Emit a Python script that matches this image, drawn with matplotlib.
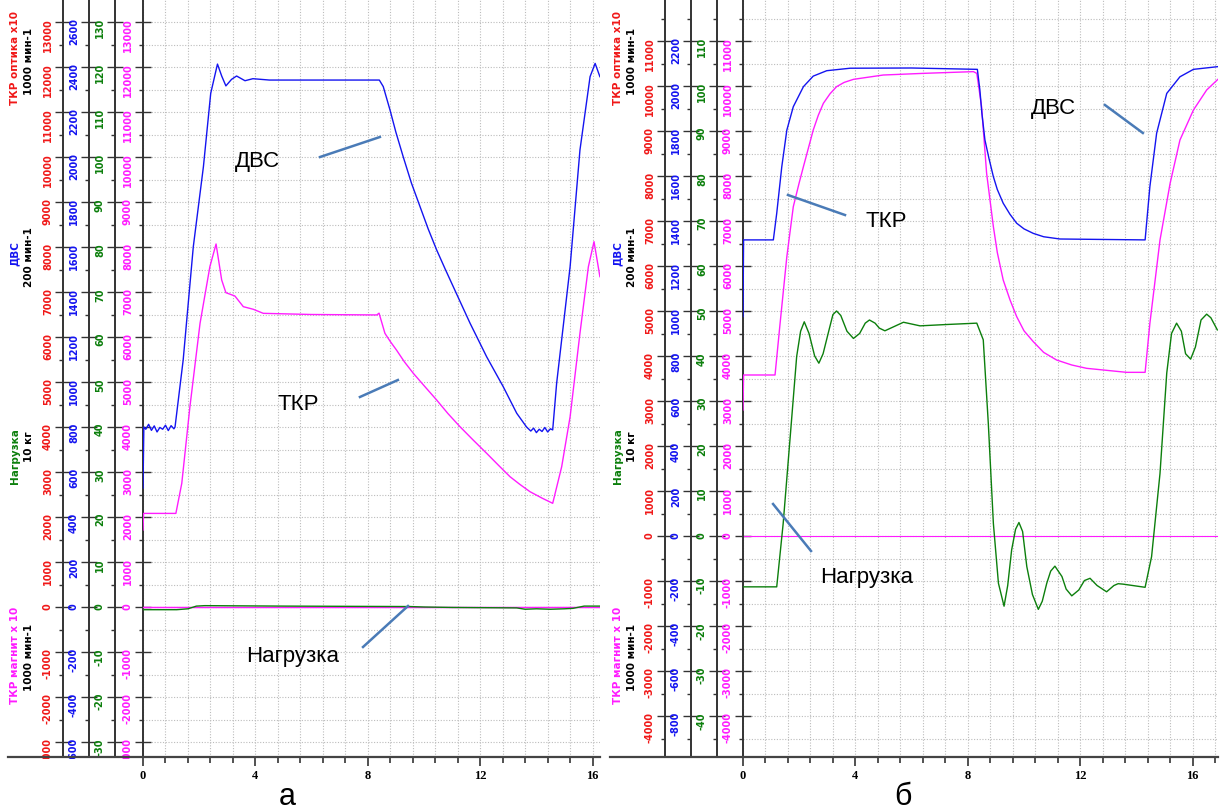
import numpy as np
import matplotlib.pyplot as plt
from matplotlib.ticker import MultipleLocator
from matplotlib.patches import Rectangle

plt.rcParams['axes.unicode_minus'] = False
plt.rcParams['font.family'] = ['DejaVu Sans']
plt.rcParams['font.weight'] = 'bold'

W, H = 1225, 811
PX_PER_1000 = 45.0
PX_PER_SEC = 28.1
AXIS_BOTTOM = 757

RED = '#f01818'
BLUE = '#1414f0'
GREEN = '#0c7f0c'
MAGENTA = '#ff1cff'
NOTE = '#4a7bb7'

# ---------- panel a ----------
t_dvs_a = [0, 0.03, 0.1, 0.2, 0.3, 0.4, 0.5, 0.6, 0.7, 0.8, 0.9, 1.0, 1.1, 1.14,
           1.43, 1.79, 2.15, 2.41, 2.65, 2.80, 2.95, 3.15, 3.33, 3.63, 3.91, 4.5,
           6.0, 8.41, 8.55, 8.79, 9.0, 9.26, 9.55, 9.86, 10.15, 10.45, 10.75, 11.04,
           11.64, 12.23, 12.82, 13.30, 13.65, 13.8, 13.9, 14.0, 14.1, 14.2, 14.3,
           14.4, 14.5, 14.58, 14.72, 15.20, 15.55, 15.91, 16.09, 16.26]
dvs_a = [529, 800, 790, 812, 785, 805, 778, 798, 790, 808, 784, 806, 792, 800,
         1098, 1601, 1957, 2283, 2413, 2360, 2316, 2345, 2360, 2339, 2348, 2342,
         2342, 2342, 2313, 2209, 2110, 2001, 1885, 1779, 1680, 1587, 1503, 1424,
         1261, 1112, 979, 861, 800, 782, 795, 775, 790, 780, 798,
         778, 792, 787, 994, 1513, 2031, 2357, 2416, 2357]

t_tkr_a = [0, 0.02, 1.17, 1.38, 1.67, 2.03, 2.38, 2.60, 2.80, 2.95, 3.27, 3.57,
           3.93, 4.28, 6.0, 8.32, 8.40, 8.61, 8.8, 9.02, 9.3, 9.62, 10.0, 10.45,
           10.85, 11.28, 11.75, 12.23, 12.65, 13.06, 13.4, 13.77, 14.2, 14.58,
           14.90, 15.20, 15.55, 15.85, 16.05, 16.26]
tkr_a = [1711, 2080, 2080, 2748, 4452, 6304, 7563, 8067, 7267, 6985, 6911, 6674,
         6615, 6526, 6500, 6490, 6530, 6081, 5900, 5711, 5450, 5193, 4920, 4600,
         4300, 4007, 3710, 3415, 3150, 2896, 2730, 2563, 2420, 2304,
         3118, 4230, 6081, 7563, 8119, 7341]

t_load_a = [0, 1.2, 1.6, 1.9, 2.2, 5.0, 9.5, 10.0, 11.0, 13.3, 13.6, 14.0, 14.5,
            15.0, 15.3, 15.7, 16.26]
load_a = [-0.6, -0.6, -0.4, 0.2, 0.3, 0.2, 0.1, 0.0, -0.1, -0.2, -0.5, -0.4,
          -0.5, -0.4, -0.3, 0.2, 0.2]

# ---------- panel b ----------
t_dvs_b = [0, 0.02, 1.08, 1.20, 1.38, 1.56, 1.79, 2.15, 2.50, 2.98, 3.81, 6.0,
           8.34, 8.43, 8.50, 8.61, 8.75, 8.91, 9.05, 9.26, 9.5, 9.74, 10.0, 10.33,
           10.7, 11.28, 14.31, 14.48, 14.72, 15.08, 15.55, 16.03, 16.9]
dvs_b = [975, 1316, 1316, 1434, 1641, 1804, 1908, 1997, 2044, 2068, 2079, 2080,
         2074, 1982, 1880, 1760, 1680, 1597, 1540, 1479, 1430, 1390, 1365, 1345,
         1330, 1320, 1316, 1553, 1790, 1967, 2041, 2074, 2086]

t_tkr_b = [0, 0.02, 1.14, 1.32, 1.56, 1.79, 2.0, 2.15, 2.50, 2.68, 2.86, 3.1, 3.33,
           3.6, 3.93, 4.99, 6.42, 8.20, 8.32, 8.49, 8.67, 8.91, 9.05, 9.26, 9.5,
           9.74, 10.0, 10.33, 10.7, 11.16, 11.7, 12.23, 13.65, 14.31, 14.48, 14.84,
           15.20, 15.55, 16.03, 16.50, 16.9]
tkr_b = [2800, 3578, 3578, 4726, 6207, 7318, 7850, 8207, 9022, 9350, 9615, 9830,
         9985, 10080, 10148, 10244, 10281, 10319, 10281, 9541, 8059, 6874, 6300,
         5689, 5250, 4874, 4560, 4319, 4080, 3911, 3800, 3726, 3637, 3637, 4726,
         6578, 7837, 8800, 9467, 9911, 10148]

t_load_b = [0, 1.20, 1.43, 1.67, 1.91, 2.05, 2.18, 2.35, 2.55, 2.70, 2.85, 3.05,
            3.20, 3.33, 3.48, 3.70, 3.93, 4.15, 4.35, 4.50, 4.70, 4.85, 5.05,
            5.71, 6.30, 7.25, 8.32, 8.55, 8.73, 8.91, 9.09, 9.29, 9.42, 9.56,
            9.70, 9.82, 9.95, 10.10, 10.30, 10.51, 10.65, 10.81, 10.95, 11.10,
            11.35, 11.50, 11.70, 11.95, 12.15, 12.35, 12.60, 12.94, 13.20, 13.35,
            13.53, 14.31, 14.54, 14.84, 15.08, 15.25, 15.43, 15.60, 15.75, 15.93,
            16.10, 16.30, 16.50, 16.65, 16.88]
load_b = [-11.3, -11.3, 2.8, 21.3, 39.9, 45.5, 47.6, 45.0, 40.0, 38.4, 40.5, 45.5,
          49.2, 50.0, 49.0, 45.5, 43.9, 45.0, 47.3, 48.0, 47.3, 46.2, 45.6,
          47.5, 46.7, 47.0, 47.3, 43.6, 25.0, 2.8, -10.5, -15.6, -11.0, -3.1,
          1.5, 3.0, 1.0, -6.8, -13.0, -16.3, -14.5, -10.5, -7.8, -6.7,
          -9.0, -11.8, -13.3, -12.0, -9.9, -9.4, -11.0, -12.4, -11.0, -10.6,
          -10.7, -11.4, -4.6, 13.9, 36.2, 45.0, 47.3, 45.5, 40.5, 39.3,
          42.0, 48.0, 49.3, 48.5, 45.8]


def fx(px):
    return px / W


def fy(py):
    return 1 - py / H


def draw_panel(fig, left_px, right_px, zero_px, axis_px, series, notes):
    ax = fig.add_axes([fx(left_px), fy(AXIS_BOTTOM), (right_px - left_px) / W, AXIS_BOTTOM / H])
    ax.set_xlim(0, (right_px - left_px) / PX_PER_SEC)
    ax.set_ylim((zero_px - AXIS_BOTTOM) / PX_PER_1000 * 1000, zero_px / PX_PER_1000 * 1000)

    for sp in ['top', 'right', 'bottom']:
        ax.spines[sp].set_visible(False)
    ax.spines['left'].set_color('#333333')
    ax.spines['left'].set_linewidth(1.4)

    ax.xaxis.set_major_locator(MultipleLocator(4))
    ax.xaxis.set_minor_locator(MultipleLocator(0.8))
    ax.yaxis.set_major_locator(MultipleLocator(1000))
    ax.yaxis.set_minor_locator(MultipleLocator(500))
    ax.grid(which='both', linestyle=(0, (1, 1.5)), color='#bcbcbc', linewidth=0.8)
    ax.set_axisbelow(True)

    ax.tick_params(axis='x', which='major', direction='out', length=6.5, width=1.2,
                   color='#333333', labelsize=9, pad=3, labelfontfamily='Liberation Serif')
    ax.tick_params(axis='x', which='minor', direction='out', length=4, width=1.2, color='#333333')
    ax.tick_params(axis='y', which='major', direction='inout', length=11.5, width=1,
                   color='#333333', labelcolor=MAGENTA, labelsize=7, labelrotation=90, pad=1.5)
    ax.tick_params(axis='y', which='minor', direction='out', length=3, width=1, color='#333333')

    for px, scale, color in zip(axis_px, [1, 5, 100], [RED, BLUE, GREEN]):
        loc = (px - left_px) / (right_px - left_px)
        sec = ax.secondary_yaxis(loc, functions=(lambda v, s=scale: v / s,
                                                 lambda v, s=scale: v * s))
        sec.yaxis.set_major_locator(MultipleLocator(1000 / scale))
        sec.yaxis.set_minor_locator(MultipleLocator(500 / scale))
        sec.spines['left'].set_color('#333333')
        sec.spines['left'].set_linewidth(1.4)
        sec.tick_params(axis='y', which='major', direction='inout', length=11.5, width=1,
                        color='#333333', labelcolor=color, labelsize=7, labelrotation=90, pad=1.5)
        sec.tick_params(axis='y', which='minor', direction='out', length=3, width=1,
                        color='#333333')

    ax.axhline(0, color=MAGENTA, lw=0.8, zorder=2)
    for t, vals, scale, color in series:
        ax.plot(t, np.array(vals) * scale, color=color, lw=1.0, zorder=3)

    for text, tx, ty, (x0, y0), (x1, y1) in notes:
        ax.plot([x0, x1], [y0, y1], color=NOTE, lw=1.8, zorder=4)
        ax.text(tx, ty, text, fontsize=16, fontweight='normal', ha='center', va='center',
                family='Liberation Sans', zorder=4)

    # scale labels are cut at the time axis, as in the source
    start_px = axis_px[0] - 55
    fig.add_artist(Rectangle((fx(start_px - 10), 0), (left_px - 7 - start_px + 10) / W,
                             fy(AXIS_BOTTOM + 1.5), transform=fig.transFigure,
                             facecolor='white', edgecolor='none', zorder=10))
    # bottom axis line runs under the scale columns too
    fig.add_artist(plt.Line2D([fx(start_px), fx(right_px)], [fy(AXIS_BOTTOM)] * 2,
                              transform=fig.transFigure, color='#444444', lw=1.6, zorder=11))
    return ax


def scale_titles(fig, x_px):
    rows = [('ТКР оптика x10', RED, 58), ('ДВС', BLUE, 254),
            ('Нагрузка', GREEN, 456), ('ТКР магнит x 10', MAGENTA, 655)]
    units = [('1000 мин-1', 61), ('200 мин-1', 257), ('10 кг', 447), ('1000 мин-1', 657)]
    for (name, color, y), (unit, uy) in zip(rows, units):
        fig.text(fx(x_px), fy(y), name, color=color, rotation=90, fontsize=7.5,
                 ha='center', va='center')
        fig.text(fx(x_px + 14), fy(uy), unit, color='black', rotation=90, fontsize=7.5,
                 ha='center', va='center')


fig = plt.figure(figsize=(W / 100, H / 100), dpi=100)

draw_panel(fig, 143, 600, 607, [63, 89, 115],
           [(t_load_a, [0] * len(t_load_a), 1, MAGENTA),
            (t_tkr_a, tkr_a, 1, MAGENTA),
            (t_dvs_a, dvs_a, 5, BLUE),
            (t_load_a, load_a, 100, GREEN)],
           [('ДВС', 4.09, 9889, (6.30, 10000), (8.43, 10444)),
            ('ТКР', 5.52, 4489, (7.72, 4667), (9.07, 5044)),
            ('Нагрузка', 5.34, -1111, (7.83, -889), (9.43, 22))])

draw_panel(fig, 743, 1218, 536, [665, 691, 717],
           [(t_tkr_b, tkr_b, 1, MAGENTA),
            (t_dvs_b, dvs_b, 5, BLUE),
            (t_load_b, load_b, 100, GREEN)],
           [('ДВС', 11.03, 9511, (12.88, 9578), (14.23, 8956)),
            ('ТКР', 5.09, 6978, (3.63, 7133), (1.60, 7578)),
            ('Нагрузка', 4.41, -933, (2.42, -333), (1.07, 711))])

scale_titles(fig, 15)
scale_titles(fig, 618)

# left picture is cut off at its right edge in the source
fig.add_artist(Rectangle((fx(598), fy(790)), 9 / W, 28 / H, transform=fig.transFigure,
                         facecolor='white', edgecolor='none', zorder=10))

fig.text(fx(287), fy(797), 'а', fontsize=22, fontweight='normal', family='Liberation Sans',
         ha='center', va='center')
fig.text(fx(903), fy(797), 'б', fontsize=22, fontweight='normal', family='Liberation Sans',
         ha='center', va='center')

fig.savefig('out.png', dpi=100)
